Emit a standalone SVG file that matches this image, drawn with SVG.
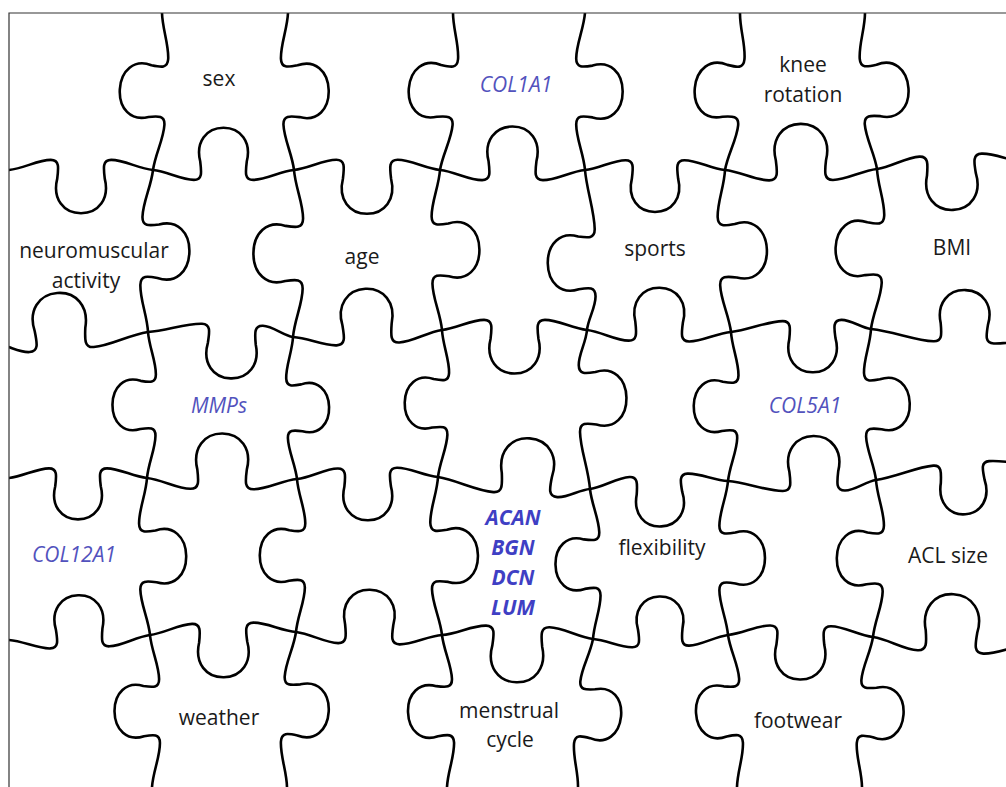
<svg xmlns="http://www.w3.org/2000/svg" xmlns:xlink="http://www.w3.org/1999/xlink" width="1006" height="787" viewBox="0 0 1006 787">
<style>
.cut{fill:none;stroke:#000;stroke-width:2.6;stroke-linecap:round;stroke-linejoin:round}
.lbl{font-family:"Open Sans","Liberation Sans",sans-serif;font-size:21px;fill:#1a1a1a;text-anchor:middle}
.gene{font-style:italic;fill:#5252bd}
.geneb{font-style:italic;font-weight:bold;fill:#3f3fc4}
</style>
<defs>
<path id="t" vector-effect="non-scaling-stroke" d="M0,0 C0.10,0.01 0.20,0.07 0.29,0.07 C0.35,0.07 0.345,0.02 0.335,-0.06 C0.30,-0.20 0.38,-0.30 0.5,-0.30 C0.62,-0.30 0.70,-0.20 0.665,-0.06 C0.655,0.02 0.65,0.07 0.71,0.07 C0.80,0.07 0.90,0.01 1,0"/>
<path id="tr" vector-effect="non-scaling-stroke" d="M0,0 C0.12,0.01 0.26,0.07 0.37,0.07 C0.43,0.07 0.425,0.02 0.415,-0.06 C0.38,-0.20 0.46,-0.30 0.58,-0.30 C0.70,-0.30 0.78,-0.20 0.745,-0.06 C0.735,0.02 0.73,0.07 0.79,0.07 C0.86,0.07 0.93,0.01 1,0"/>
<path id="tl" vector-effect="non-scaling-stroke" d="M0,0 C0.08,0.01 0.15,0.07 0.22,0.07 C0.28,0.07 0.275,0.02 0.265,-0.06 C0.23,-0.20 0.31,-0.30 0.43,-0.30 C0.55,-0.30 0.63,-0.20 0.595,-0.06 C0.585,0.02 0.58,0.07 0.64,0.07 C0.75,0.07 0.87,0.01 1,0"/>
<path id="n" vector-effect="non-scaling-stroke" d="M0,0 C0.12,0.01 0.24,0.07 0.338,0.07 C0.385,0.07 0.381,0.02 0.373,-0.06 C0.346,-0.20 0.408,-0.30 0.5,-0.30 C0.592,-0.30 0.654,-0.20 0.627,-0.06 C0.619,0.02 0.615,0.07 0.662,0.07 C0.76,0.07 0.88,0.01 1,0"/>
<clipPath id="frame"><rect x="9" y="13" width="997" height="774"/></clipPath>
</defs>
<rect x="0" y="0" width="1006" height="787" fill="#fff"/>
<g id="connectors" class="cut" clip-path="url(#frame)">
<!-- H1 -->
<use href="#t" transform="matrix(144,0,0,-144,9,170)"/>
<use href="#t" transform="matrix(141,0,0,141,153,170)"/>
<use href="#t" transform="matrix(146,0,0,-146,294,170)"/>
<use href="#t" transform="matrix(145,0,0,145,440,170)"/>
<use href="#t" transform="matrix(140,0,0,-140,585,170)"/>
<use href="#t" transform="matrix(152,-1,1,152,725,170)"/>
<use href="#t" transform="matrix(148,-7,-7,-148,877,169)"/>
<!-- H2 -->
<use href="#tl" transform="matrix(153,-12,12,153,-5,344)"/>
<use href="#tr" transform="matrix(145,5,5,-145,148,332)"/>
<use href="#t" transform="matrix(149,-7,7,149,293,337)"/>
<use href="#t" transform="matrix(145,0,0,-145,442,330)"/>
<use href="#t" transform="matrix(144,2,-2,144,587,330)"/>
<use href="#tr" transform="matrix(140,-3,-3,-140,731,332)"/>
<use href="#n" transform="matrix(186,7,-5.3,141.4,871,329)"/>
<!-- H3 -->
<use href="#t" transform="matrix(138,0,0,-138,9,478)"/>
<use href="#t" transform="matrix(150,1,-1,150,147,478)"/>
<use href="#t" transform="matrix(141,-2,-2,-141,297,479)"/>
<use href="#tr" transform="matrix(152,12,-12,152,438,477)"/>
<use href="#t" transform="matrix(138,-8,-8,-138,590,489)"/>
<use href="#tr" transform="matrix(148,-1,1,148,728,481)"/>
<use href="#n" transform="matrix(172,-14,-11.2,-137.6,876,480)"/>
<!-- H4 -->
<use href="#t" transform="matrix(141,-5,5,141,9,640)"/>
<use href="#t" transform="matrix(146,-3,-3,-146,150,635)"/>
<use href="#t" transform="matrix(146,3,-3,146,296,632)"/>
<use href="#t" transform="matrix(151,4,4,-151,442,635)"/>
<use href="#t" transform="matrix(135,-4,4,135,593,639)"/>
<use href="#t" transform="matrix(145,2,2,-145,728,635)"/>
<use href="#t" transform="matrix(156,8,-8,156,873,637)"/>
<!-- V1 -->
<use href="#t" transform="matrix(-9,157,125.6,7.2,162,13)"/>
<use href="#t" transform="matrix(-5,162,-129.6,-4,153,170)"/>
<use href="#t" transform="matrix(-1,146,116.8,0.8,148,332)"/>
<use href="#t" transform="matrix(3,157,-125.6,2.4,147,478)"/>
<use href="#t" transform="matrix(2,152,121.6,-1.6,150,635)"/>
<!-- V2 -->
<use href="#t" transform="matrix(6,157,-125.6,4.8,288,13)"/>
<use href="#t" transform="matrix(-1,167,133.6,0.8,294,170)"/>
<use href="#t" transform="matrix(4,142,-113.6,3.2,293,337)"/>
<use href="#t" transform="matrix(-1,153,122.4,0.8,297,479)"/>
<use href="#t" transform="matrix(-9,155,-124,-7.2,296,632)"/>
<!-- V3 -->
<use href="#t" transform="matrix(-13,157,125.6,10.4,453,13)"/>
<use href="#t" transform="matrix(2,160,-128,1.6,440,170)"/>
<use href="#t" transform="matrix(-4,147,117.6,3.2,442,330)"/>
<use href="#t" transform="matrix(4,158,-126.4,3.2,438,477)"/>
<use href="#t" transform="matrix(5,152,121.6,-4,442,635)"/>
<!-- V4 -->
<use href="#t" transform="matrix(0,157,-125.6,0,585,13)"/>
<use href="#tr" transform="matrix(2,160,128,-1.6,585,170)"/>
<use href="#tl" transform="matrix(3,159,-127.2,2.4,587,330)"/>
<use href="#t" transform="matrix(3,150,120,-2.4,590,489)"/>
<use href="#t" transform="matrix(-15,148,-118.4,-12,593,639)"/>
<!-- V5 -->
<use href="#t" transform="matrix(-15,157,125.6,12,740,13)"/>
<use href="#t" transform="matrix(6,162,-129.6,4.8,725,170)"/>
<use href="#t" transform="matrix(-3,149,119.2,2.4,731,332)"/>
<use href="#t" transform="matrix(0,154,-123.2,0,728,481)"/>
<use href="#t" transform="matrix(9,152,121.6,-7.2,728,635)"/>
<!-- V6 -->
<use href="#t" transform="matrix(12,156,-124.8,9.6,865,13)"/>
<use href="#t" transform="matrix(-6,160,128,4.8,877,169)"/>
<use href="#t" transform="matrix(5,151,-120.8,4,871,329)"/>
<use href="#t" transform="matrix(-3,157,125.6,2.4,876,480)"/>
<use href="#t" transform="matrix(-11,150,-120,-8.8,873,637)"/>
</g>
<g id="frame-lines" stroke="#333" stroke-width="1.2" fill="none">
<path d="M9,787 V13 H1006"/>
</g>
<g id="piece-sex" class="lbl"><text x="219" y="86">sex</text></g>
<g id="piece-col1a1" class="lbl"><text class="gene" x="516" y="92">COL1A1</text></g>
<g id="piece-knee" class="lbl"><text x="803" y="72">knee</text><text x="803" y="102">rotation</text></g>
<g id="piece-neuromuscular" class="lbl"><text x="94" y="258">neuromuscular</text><text x="86" y="288">activity</text></g>
<g id="piece-age" class="lbl"><text x="362" y="264">age</text></g>
<g id="piece-sports" class="lbl"><text x="655" y="256">sports</text></g>
<g id="piece-bmi" class="lbl"><text x="952" y="255">BMI</text></g>
<g id="piece-mmps" class="lbl"><text class="gene" x="219" y="413">MMPs</text></g>
<g id="piece-col5a1" class="lbl"><text class="gene" x="805" y="413">COL5A1</text></g>
<g id="piece-col12a1" class="lbl"><text class="gene" x="74" y="562">COL12A1</text></g>
<g id="piece-proteoglycans" class="lbl"><text class="geneb" x="513" y="525">ACAN</text><text class="geneb" x="513" y="555">BGN</text><text class="geneb" x="513" y="585">DCN</text><text class="geneb" x="513" y="615">LUM</text></g>
<g id="piece-flexibility" class="lbl"><text x="662" y="555">flexibility</text></g>
<g id="piece-acl" class="lbl"><text x="948" y="563">ACL size</text></g>
<g id="piece-weather" class="lbl"><text x="219" y="725">weather</text></g>
<g id="piece-menstrual" class="lbl"><text x="509" y="718">menstrual</text><text x="510" y="747">cycle</text></g>
<g id="piece-footwear" class="lbl"><text x="798" y="728">footwear</text></g>
</svg>
